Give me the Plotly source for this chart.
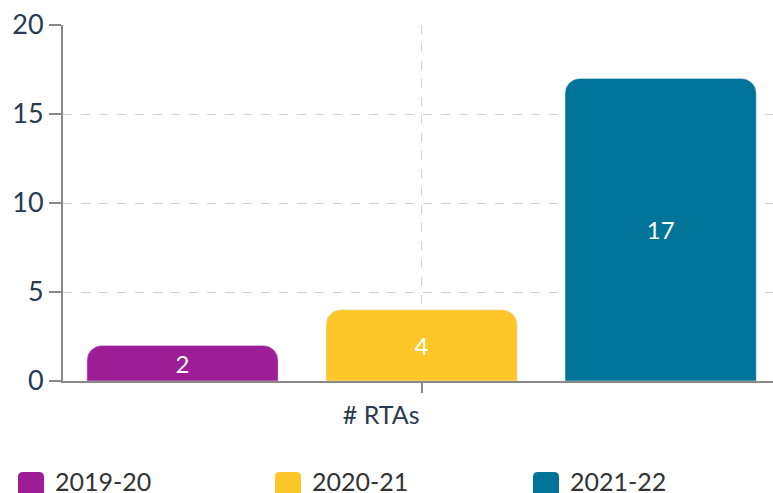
import plotly.graph_objects as go

categories = ["# RTAs"]
series_names = ["2019-20", "2020-21", "2021-22"]
series_values = [[2], [4], [17]]
series_colors = ["#9C1D96", "#FFC629", "#007398"]
y_ticks = [0, 5, 10, 15, 20]

W, H = 773, 493
ML, MR, MT, MB = 63, 0, 25, 112
PW, PH = W - ML - MR, H - MT - MB

FONT = "Lato, Noto Sans, sans-serif"
TXT = "#2B3A4E"

fig = go.Figure()
for name, vals, col in zip(series_names, series_values, series_colors):
    fig.add_trace(go.Bar(
        x=categories, y=vals, name=name, marker_color=col,
        text=[str(v) for v in vals], textposition="inside",
        insidetextanchor="middle", textangle=0,
        textfont=dict(family=FONT, size=24, color="white"),
        showlegend=False,
    ))

# manual legend (rounded squares + labels)
shapes = []
annotations = []
leg_x = [18, 275, 533]
leg_y_top = 472
sq = 26
r = 5
for px, name, col in zip(leg_x, series_names, series_colors):
    xa = (px - ML) / PW
    ya = (H - MB - leg_y_top) / PH
    path = (f"M {r},0 L {sq-r},0 Q {sq},0 {sq},{-r} L {sq},{-(sq-r)} Q {sq},{-sq} {sq-r},{-sq} "
            f"L {r},{-sq} Q 0,{-sq} 0,{-(sq-r)} L 0,{-r} Q 0,0 {r},0 Z")
    shapes.append(dict(type="path", xref="paper", yref="paper",
                       xsizemode="pixel", ysizemode="pixel",
                       xanchor=xa, yanchor=ya, path=path,
                       fillcolor=col, line=dict(width=0)))
    annotations.append(dict(xref="paper", yref="paper",
                            x=(px + sq + 9 - ML) / PW, y=(H - MB - 481) / PH,
                            xanchor="left", yanchor="middle", showarrow=False,
                            text=name, font=dict(family=FONT, size=25, color="#333333")))

fig.update_layout(
    width=W, height=H,
    margin=dict(l=ML, r=MR, t=MT, b=MB, autoexpand=False),
    paper_bgcolor="white", plot_bgcolor="white",
    barmode="group", bargap=0.0, bargroupgap=0.2,
    barcornerradius=15,
    font=dict(family=FONT, color=TXT),
    showlegend=False,
    shapes=shapes, annotations=annotations,
    uniformtext=dict(minsize=24, mode="show"),
)
fig.update_xaxes(
    automargin=False,
    range=[-0.5, 0.49],
    showgrid=True, gridcolor="#D3D3D3", griddash="dash", gridwidth=1,
    showline=True, linecolor="#888888", linewidth=2,
    ticks="outside", ticklen=10, tickcolor="#888888", tickwidth=2,
    ticklabelposition="outside left", ticklabelstandoff=11,
    tickfont=dict(family=FONT, size=25, color=TXT),
)
fig.update_yaxes(
    automargin=False,
    range=[0, 20], tickvals=y_ticks,
    showgrid=True, gridcolor="#D3D3D3", griddash="dash", gridwidth=1,
    showline=True, linecolor="#888888", linewidth=2,
    ticks="outside", ticklen=12, tickcolor="#888888", tickwidth=2,
    tickfont=dict(family=FONT, size=27, color=TXT),
    zeroline=False,
)

fig.write_html("out.html", config={"displayModeBar": False},
               post_script="document.body.style.margin='0';")
